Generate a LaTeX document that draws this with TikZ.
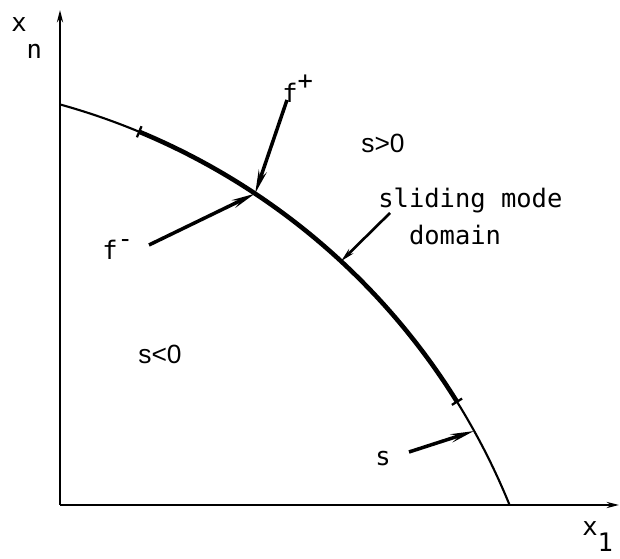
\documentclass[tikz,border=0pt]{standalone}
\usepackage{fontspec}
\setmainfont{Liberation Sans}
\newfontfamily\typew{DejaVu Sans Mono}
\usetikzlibrary{arrows.meta,positioning}

\tikzset{
  axis/.style={line width=1.4pt, -{Stealth[length=7pt,width=3.5pt]}},
  vec/.style={line width=2pt, -{Stealth[length=13pt,width=4.5pt]}},
  pointer/.style={line width=1.5pt, -{Stealth[length=8pt,width=3.5pt]}},
  thinarc/.style={line width=1.2pt},
  thickarc/.style={line width=2.6pt},
  tick/.style={line width=1.3pt},
  tw/.style={font=\typew\fontsize{14.5}{21}\selectfont, inner sep=0pt},
  region/.style={font=\fontsize{15}{18}\selectfont, inner sep=0pt}
}

\begin{document}
\begin{tikzpicture}
    \useasboundingbox (0,0) rectangle (12.4,11.18);

    % axes
    \coordinate (o) at (1.2,1.08);
    \coordinate (ytop) at (1.2,10.98);
    \coordinate (xend) at (12.38,1.08);
    \draw[axis] (o) -- (ytop);
    \draw[axis] (o) -- (xend);
    \node[tw, anchor=base west] (xn) at (0.22,10.54) {x\raisebox{-15pt}{n}};
    \node[tw, anchor=base west] (x1) at (11.64,0.46) {x\raisebox{-9pt}{1}};

    % switching surface s=0
    \coordinate (c) at (-2.446,-4.052);
    \coordinate (sbeg) at ([shift={(74.5:13.64)}]c);
    \coordinate (tick1) at ([shift={(67.45:13.64)}]c);
    \coordinate (tick2) at ([shift={(31.85:13.64)}]c);
    \draw[thinarc] (sbeg) arc[start angle=74.5, end angle=67.45, radius=13.64cm];
    \draw[thickarc] (tick1) arc[start angle=67.45, end angle=31.85, radius=13.64cm];
    \draw[thinarc] (tick2) arc[start angle=31.85, end angle=22.1, radius=13.64cm];
    \draw[tick] ([shift={(67.45:13.52)}]c) -- ([shift={(67.45:13.76)}]c);
    \draw[tick] ([shift={(31.85:13.52)}]c) -- ([shift={(31.85:13.76)}]c);

    % points on the surface
    \coordinate (meet) at ([shift={(56.4:13.64)}]c);
    \coordinate (slide) at ([shift={(47.2:13.64)}]c);
    \coordinate (sgrad) at ([shift={(29.0:13.64)}]c);

    % regions
    \node[region] (pos) at (7.66,8.32) {s>0};
    \node[region] (neg) at (3.2,4.1) {s<0};

    % vector fields
    \node[tw, anchor=base west] (fplus) at (5.64,9.12) {f\raisebox{7.5pt}{+}};
    \node[tw, anchor=base west] (fminus) at (2.04,5.98) {f\raisebox{7pt}{-}};
    \coordinate (fplustail) at (5.74,9.18);
    \coordinate (fminustail) at (2.98,6.28);
    \draw[vec] (fplustail) -- (meet);
    \draw[vec] (fminustail) -- (meet);

    % sliding mode domain
    \node[tw, align=left, anchor=north west] (dom) at (7.56,7.42) {sliding mode\\\phantom{sl}domain};
    \coordinate (domtail) at (7.8,6.92);
    \draw[pointer] (domtail) -- (slide);

    % gradient label
    \node[region, font=\typew\fontsize{14.5}{21}\selectfont] (slab) at (7.66,2.0) {s};
    \coordinate (stail) at (8.18,2.14);
    \draw[vec] (stail) -- (sgrad);
\end{tikzpicture}
\end{document}
